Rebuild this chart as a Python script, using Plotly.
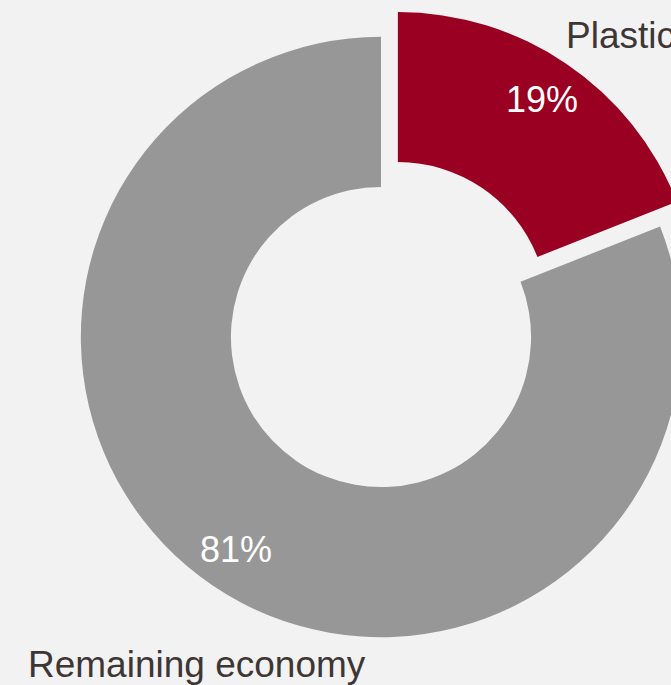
import math
import plotly.graph_objects as go

labels = ["Plastic", "Remaining economy"]
values = [19, 81]
colors = ["#990021", "#979797"]
pulls = [0.1, 0]

W, H = 762, 685
DOM_Y = [0.026, 0.990]
HOLE = 0.5

fig = go.Figure(go.Pie(
    labels=labels,
    values=values,
    hole=HOLE,
    sort=False,
    direction="clockwise",
    rotation=0,
    pull=pulls,
    marker=dict(colors=colors, line=dict(width=0)),
    textinfo="none",
    domain=dict(x=[0, 1], y=DOM_Y),
    showlegend=False,
    hoverinfo="label+percent",
))

# pie geometry (same as plotly's own sizing) to place horizontal percent labels
box_w = W
box_h = H * (DOM_Y[1] - DOM_Y[0])
r = min(box_w, box_h) / (2 + 2 * max(pulls))
cx = W / 2
cy = H * (1 - DOM_Y[0]) - box_h / 2
total = sum(values)
cum = 0
for v, p in zip(values, pulls):
    mid = 2 * math.pi * (cum + v / 2) / total
    cum += v
    dist = p * r + 0.857 * r
    px = cx + dist * math.sin(mid)
    py = cy - dist * math.cos(mid)
    fig.add_annotation(text=f"{round(100 * v / total)}%", x=px / W, y=1 - py / H,
                       xref="paper", yref="paper", xanchor="center", yanchor="middle",
                       showarrow=False,
                       font=dict(size=36, color="white", family="Liberation Sans, Arial"))

label_color = "#3e3634"
fig.add_annotation(text=labels[0], x=564 / W, y=1 - 35 / H, xref="paper", yref="paper",
                   xanchor="left", yanchor="middle", showarrow=False,
                   font=dict(size=37, color=label_color, family="Liberation Sans, Arial"))
fig.add_annotation(text=labels[1], x=26 / W, y=1 - 664 / H, xref="paper", yref="paper",
                   xanchor="left", yanchor="middle", showarrow=False,
                   font=dict(size=37, color=label_color, family="Liberation Sans, Arial"))

fig.update_layout(
    width=W, height=H,
    margin=dict(l=0, r=0, t=0, b=0),
    paper_bgcolor="#f2f2f2",
    plot_bgcolor="#f2f2f2",
)

fig.write_html("out.html",
               post_script="document.documentElement.style.overflow='hidden';document.body.style.overflow='hidden';document.body.style.margin='0';")
